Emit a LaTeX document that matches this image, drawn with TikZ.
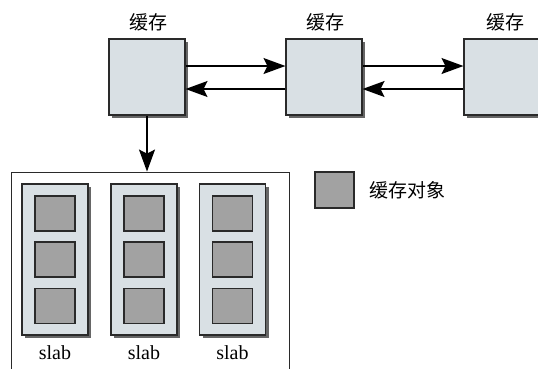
\documentclass[tikz,border=0pt]{standalone}
\usepackage{fontspec}
\setmainfont{Liberation Serif}
\newfontfamily\serifx{Liberation Serif}
\newfontfamily\cjk{Noto Sans CJK SC}
\usetikzlibrary{shadows,arrows.meta,calc}
\definecolor{boxfill}{HTML}{D9E0E4}
\definecolor{objfill}{HTML}{A2A2A2}
\definecolor{edge}{HTML}{2A2A2A}
\tikzset{
  shad/.style={drop shadow={shadow xshift=3pt,shadow yshift=-3pt,fill=black!60,opacity=1}},
  cachebox/.style={draw=edge,line width=1.1pt,fill=boxfill,shad,minimum width=76pt,minimum height=76pt,inner sep=0pt},
  slabcol/.style={draw=edge,line width=1.1pt,fill=boxfill,shad,minimum width=66pt,minimum height=151pt,inner sep=0pt},
  obj/.style={draw=edge,line width=1.1pt,fill=objfill,minimum width=40pt,minimum height=35pt,inner sep=0pt},
  lbl/.style={font=\cjk\fontsize{19}{21}\selectfont,inner sep=0pt},
  slablbl/.style={font=\serifx\fontsize{20}{22}\selectfont,inner sep=0pt},
  arr/.style={line width=1.5pt,-{Stealth[length=22pt,width=16pt,inset=4pt]}}
}
\begin{document}
\begin{tikzpicture}[x=1pt,y=-1pt]
\useasboundingbox (0,0) rectangle (538,368);
\clip (0,0) rectangle (538,368);
% cache boxes
\node[cachebox] (c1) at (147,77) {};
\node[cachebox] (c2) at (324,77) {};
\node[cachebox] (c3) at (502,77) {};
\node[lbl] (l1) at (148,22) {缓存};
\node[lbl] (l2) at (325,22) {缓存};
\node[lbl] (l3) at (505,22) {缓存};
% arrows between caches
\draw[arr] ($(c1.east)+(0,-11)$) -- ($(c2.west)+(0,-11)$);
\draw[arr] ($(c2.west)+(0,12)$) -- ($(c1.east)+(0,12)$);
\draw[arr] ($(c2.east)+(0,-11)$) -- ($(c3.west)+(0,-11)$);
\draw[arr] ($(c3.west)+(0,12)$) -- ($(c2.east)+(0,12)$);
% container
\node[draw=edge,line width=0.9pt,fill=white,minimum width=278pt,minimum height=204pt,inner sep=0pt] (cont) at (150,274) {};
\draw[arr] (c1.south) -- (c1.south |- cont.north);
% slab columns
\foreach \i/\x in {1/55,2/144,3/232.5}{
  \node[slabcol] (s\i) at (\x,259.5) {};
  \node[obj] (o\i a) at (\x,213.5) {};
  \node[obj] (o\i b) at (\x,259.5) {};
  \node[obj] (o\i c) at (\x,306) {};
  \node[slablbl] (sl\i) at (\x,353) {slab};
}
% legend
\node[obj,minimum width=39pt,minimum height=36pt] (leg) at (334.5,190) {};
\node[lbl,anchor=west] (legt) at (369,190) {缓存对象};
\end{tikzpicture}
\end{document}
